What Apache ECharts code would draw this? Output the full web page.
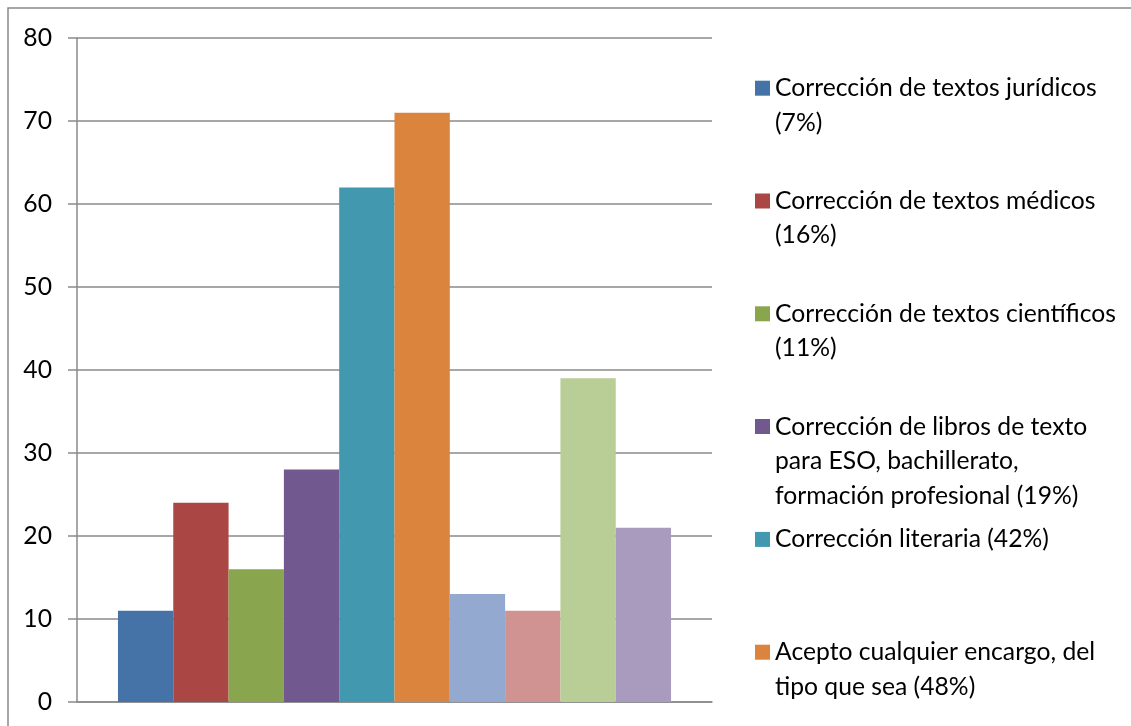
<!DOCTYPE html>
<html>
<head>
<meta charset="utf-8">
<script src="https://cdn.jsdelivr.net/npm/echarts@6/dist/echarts.min.js"></script>
<style>
  html, body { margin: 0; padding: 0; background: #fff; }
  #chart { width: 1131px; height: 726px; }
</style>
</head>
<body>
<div id="chart"></div>
<script>
// Encargos de corrección que acepta cada profesional (número de respuestas)
const seriesNames = [
  'Corrección de textos jurídicos (7%)',
  'Corrección de textos médicos (16%)',
  'Corrección de textos científicos (11%)',
  'Corrección de libros de texto para ESO, bachillerato, formación profesional (19%)',
  'Corrección literaria (42%)',
  'Acepto cualquier encargo, del tipo que sea (48%)',
  'Corrección de textos técnicos (9%)',
  'Corrección de textos publicitarios (7%)',
  'Corrección de traducciones (26%)',
  'Corrección de prensa (14%)'
];
const seriesValues = [11, 24, 16, 28, 62, 71, 13, 11, 39, 21];
const seriesColors = ['#4573A7', '#AA4643', '#89A54E', '#71588F', '#4198AF',
                      '#DB843D', '#93A9CF', '#D19392', '#B9CD96', '#A99BBD'];
// Líneas de la leyenda (solo se muestran las seis primeras series)
const legendLines = [
  ['Corrección de textos jurídicos', '(7%)'],
  ['Corrección de textos médicos', '(16%)'],
  ['Corrección de textos científicos', '(11%)'],
  ['Corrección de libros de texto', 'para ESO, bachillerato,', 'formación profesional (19%)'],
  ['Corrección literaria (42%)'],
  ['Acepto cualquier encargo, del', 'tipo que sea (48%)']
];
const yTicks = [0, 10, 20, 30, 40, 50, 60, 70, 80];

const FONT = 'Lato';
const FS = 24.7;
const LH = 34.5;
const MARK = 15;
const gridColor = '#8a8a8a';

const chart = echarts.init(document.getElementById('chart'), null, { renderer: 'canvas' });

// Square marker aligned with the first text line of a multi-line legend entry
function markerPath(n) {
  const top = LH / 2 - MARK / 2;
  return 'path://M0,0 M0,' + top + 'h' + MARK + 'v' + MARK + 'h-' + MARK + 'z M0,' + (n * LH);
}

const legends = legendLines.map((lines, i) => {
  const n = lines.length;
  const firstLineCenter = 88.2 + 112.8 * i;
  return {
    show: true,
    orient: 'vertical',
    left: 755,
    top: firstLineCenter - LH / 2,
    padding: 0,
    itemWidth: MARK,
    itemHeight: n * LH,
    icon: markerPath(n),
    selectedMode: false,
    data: [seriesNames[i]],
    formatter: () => lines.join('\n'),
    textStyle: {
      fontFamily: FONT,
      fontSize: FS,
      lineHeight: LH,
      color: '#000'
    }
  };
});

const option = {
  animation: false,
  backgroundColor: '#fff',
  textStyle: { fontFamily: FONT },
  graphic: [{
    type: 'rect',
    silent: true,
    z: -10,
    shape: { x: 8, y: 8, width: 1200, height: 800 },
    style: { fill: 'none', stroke: '#8a8a8a', lineWidth: 1.5 }
  }],
  legend: legends,
  grid: { left: 77, right: 419, top: 38, bottom: 24, containLabel: false },
  xAxis: {
    type: 'category',
    data: [''],
    axisLine: { show: true, lineStyle: { color: gridColor, width: 1.5 } },
    axisTick: { show: false },
    axisLabel: { show: false },
    splitLine: { show: false }
  },
  yAxis: {
    type: 'value',
    min: yTicks[0],
    max: yTicks[yTicks.length - 1],
    interval: 10,
    axisLine: { show: true, lineStyle: { color: gridColor, width: 1.5 } },
    axisTick: { show: true, inside: false, length: 9, lineStyle: { color: gridColor, width: 1.5 } },
    axisLabel: { margin: 25, fontFamily: FONT, fontSize: FS, color: '#000' },
    splitLine: { show: true, lineStyle: { color: gridColor, width: 1.5 } }
  },
  series: seriesNames.map((name, i) => ({
    type: 'bar',
    name: name,
    data: [seriesValues[i]],
    barGap: '0%',
    barCategoryGap: '12.9%',
    itemStyle: { color: seriesColors[i] },
    emphasis: { disabled: true }
  }))
};

chart.setOption(option);
</script>
</body>
</html>
